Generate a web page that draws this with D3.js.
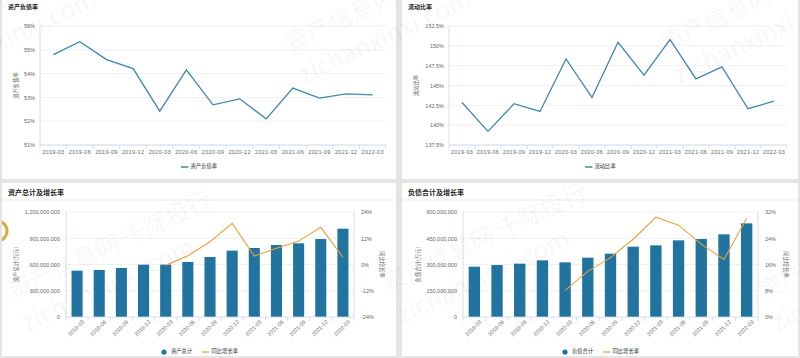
<!DOCTYPE html>
<html>
<head>
<meta charset="utf-8">
<script src="https://cdn.jsdelivr.net/npm/d3@7/dist/d3.min.js"></script>
<style>
  html, body { margin: 0; padding: 0; background: #e4e4e4; }
  svg { display: block; font-family: "Noto Sans CJK SC", "Noto Sans", sans-serif; }
</style>
</head>
<body>
<svg id="chart" width="800" height="358"></svg>
<script>
// ---------------- DATA ----------------
const categories = ['2019-03','2019-06','2019-09','2019-12','2020-03','2020-06','2020-09','2020-12','2021-03','2021-06','2021-09','2021-12','2022-03'];
const debtRatio = [54.80,55.34,54.59,54.21,52.42,54.16,52.69,52.94,52.10,53.39,52.97,53.15,53.11];
const currentRatio = [142.86,139.22,142.70,141.73,148.35,143.49,150.45,146.30,150.78,145.84,147.35,142.07,143.03];
const totalAssets = [529500000,537000000,560000000,598000000,598000000,628600000,685700000,758000000,788600000,822900000,842000000,891000000,1009500000];
const assetGrowth = [null,null,null,null,-0.4,4.0,10.4,18.8,3.9,7.4,10.7,17.0,3.3];
const totalLiab = [287600000,297000000,304800000,323800000,312400000,339000000,361900000,401900000,409500000,438000000,445700000,472400000,535200000];
const liabGrowth = [null,null,null,null,8.1,13.9,18.1,23.7,30.4,28.0,22.2,17.5,30.1];

const debtTicks = [51,52,53,54,55,56];
const currentTicks = [137.5,140,142.5,145,147.5,150,152.5];
const assetTicks = [0,300000000,600000000,900000000,1200000000];
const assetGrowthTicks = [-24,-12,0,12,24];
const liabTicks = [0,150000000,300000000,450000000,600000000];
const liabGrowthTicks = [0,8,16,24,32];

// ---------------- STYLE ----------------
const LINE_BLUE = '#3f88b2';
const BAR_BLUE = '#21749f';
const ORANGE = '#f2a03d';
const AXIS_COL = '#ccd6eb';
const GRID_COL = '#ececec';
const TXT = '#666';

const svg = d3.select('#chart');
svg.append('rect').attr('width',800).attr('height',358).attr('fill','#e4e4e4');

const panels = [
  {x:2,y:0,w:394,h:179},
  {x:402,y:0,w:396,h:179},
  {x:2,y:183,w:394,h:173},
  {x:402,y:183,w:396,h:173}
];
const defs = svg.append('defs');
panels.forEach((p,i) => {
  svg.append('rect').attr('x',p.x).attr('y',p.y).attr('width',p.w).attr('height',p.h).attr('fill','#fff');
  defs.append('clipPath').attr('id','clip'+i).append('rect')
    .attr('x',p.x).attr('y',p.y).attr('width',p.w).attr('height',p.h);
});

// partial logo at left edge of lower-left panel
svg.append('g').attr('clip-path','url(#clip2)').append('circle')
  .attr('cx', -3).attr('cy', 231).attr('r', 10).attr('fill','none')
  .attr('stroke', '#d9aa45').attr('stroke-width', 3);

const fmtComma = d3.format(',');

function xAxisBetweenTicks(g, x, y0) {
  const bounds = categories.map(c => x(c)).concat([x.range()[1]]);
  g.selectAll('line.xt').data(bounds).enter().append('line')
    .attr('x1', d => d).attr('x2', d => d).attr('y1', y0).attr('y2', y0 + 4)
    .attr('stroke', AXIS_COL).attr('stroke-width', 0.8);
  g.append('line').attr('x1', x.range()[0]).attr('x2', x.range()[1]).attr('y1', y0).attr('y2', y0)
    .attr('stroke', AXIS_COL).attr('stroke-width', 0.8);
}

function styleAxis(sel, size) {
  sel.select('.domain').remove();
  sel.selectAll('text').attr('fill', TXT).style('font-size', size + 'px');
}

function lineChart(cfg) {
  const g = svg.append('g');
  const x = d3.scaleBand().domain(categories).range([cfg.left, cfg.right]);
  const y = d3.scaleLinear().domain([cfg.ticks[0], cfg.ticks[cfg.ticks.length-1]]).range([cfg.bottom, cfg.top]);
  g.selectAll('line.grid').data(cfg.ticks).enter().append('line')
    .attr('x1', cfg.left).attr('x2', cfg.right).attr('y1', d => y(d)).attr('y2', d => y(d))
    .attr('stroke', GRID_COL).attr('stroke-width', 0.8);
  g.append('line').attr('x1', cfg.left).attr('x2', cfg.left).attr('y1', cfg.top).attr('y2', cfg.bottom)
    .attr('stroke', AXIS_COL).attr('stroke-width', 0.8);
  const ya = g.append('g').attr('transform', `translate(${cfg.left},0)`)
    .call(d3.axisLeft(y).tickValues(cfg.ticks).tickSize(0).tickPadding(5).tickFormat(cfg.fmt));
  styleAxis(ya, 5.5);
  xAxisBetweenTicks(g, x, cfg.bottom);
  const xa = g.append('g').attr('transform', `translate(0,${cfg.bottom})`)
    .call(d3.axisBottom(x).tickSize(0).tickPadding(5));
  styleAxis(xa, 5.5);
  xa.selectAll('text').style('letter-spacing','0.3px');
  g.append('text').attr('x', cfg.titleX).attr('y', 8.5).text(cfg.title)
    .attr('fill', '#222').style('font-size', '6px').style('font-weight', 'bold');
  g.append('text').attr('transform', `translate(${cfg.ytX},${(cfg.top+cfg.bottom)/2}) rotate(-90)`)
    .attr('text-anchor','middle').attr('dominant-baseline','middle').text(cfg.title)
    .attr('fill', TXT).style('font-size', '5.3px');
  const line = d3.line().x((d,i) => x(categories[i]) + x.bandwidth()/2).y(d => y(d));
  g.append('path').datum(cfg.values).attr('d', line).attr('fill','none')
    .attr('stroke', LINE_BLUE).attr('stroke-width', 1.3).attr('stroke-linejoin','miter');
  g.append('line').attr('x1', cfg.legX).attr('x2', cfg.legX + 7.5).attr('y1', 167).attr('y2', 167)
    .attr('stroke', LINE_BLUE).attr('stroke-width', 1.5);
  g.append('text').attr('x', cfg.legX + 9.5).attr('y', 167).attr('dominant-baseline','middle')
    .text(cfg.title).attr('fill', '#333').style('font-size', '5.3px');
}

function comboChart(cfg) {
  const g = svg.append('g');
  const x = d3.scaleBand().domain(categories).range([cfg.left, cfg.right]).paddingInner(0).paddingOuter(0);
  const y = d3.scaleLinear().domain([cfg.ticks[0], cfg.ticks[cfg.ticks.length-1]]).range([cfg.bottom, cfg.top]);
  const y2 = d3.scaleLinear().domain([cfg.rticks[0], cfg.rticks[cfg.rticks.length-1]]).range([cfg.bottom, cfg.top]);
  g.append('text').attr('x', cfg.panelX + 6).attr('y', 194.5).text(cfg.title)
    .attr('fill', '#222').style('font-size', '7px').style('font-weight', 'bold');
  g.append('line').attr('x1', cfg.panelX).attr('x2', cfg.panelX + cfg.panelW).attr('y1', 200).attr('y2', 200)
    .attr('stroke', '#e6e6e6').attr('stroke-width', 0.8);
  g.selectAll('line.grid').data(cfg.ticks.slice(1)).enter().append('line')
    .attr('x1', cfg.left).attr('x2', cfg.right).attr('y1', d => y(d)).attr('y2', d => y(d))
    .attr('stroke', GRID_COL).attr('stroke-width', 0.8);
  [cfg.left, cfg.right].forEach(xx => g.append('line').attr('x1', xx).attr('x2', xx)
    .attr('y1', cfg.top).attr('y2', cfg.bottom).attr('stroke', AXIS_COL).attr('stroke-width', 0.8));
  const ya = g.append('g').attr('transform', `translate(${cfg.left},0)`)
    .call(d3.axisLeft(y).tickValues(cfg.ticks).tickSize(0).tickPadding(6).tickFormat(fmtComma));
  styleAxis(ya, 5.5);
  const ya2 = g.append('g').attr('transform', `translate(${cfg.right},0)`)
    .call(d3.axisRight(y2).tickValues(cfg.rticks).tickSize(0).tickPadding(7).tickFormat(d => d + '%'));
  styleAxis(ya2, 5.5);
  const bw = x.bandwidth() * 0.5;
  g.selectAll('rect.bar').data(cfg.bars).enter().append('rect')
    .attr('x', (d,i) => x(categories[i]) + (x.bandwidth() - bw)/2)
    .attr('width', bw)
    .attr('y', d => y(d)).attr('height', d => cfg.bottom - y(d))
    .attr('fill', BAR_BLUE);
  xAxisBetweenTicks(g, x, cfg.bottom);
  const xa = g.append('g').attr('transform', `translate(0,${cfg.bottom})`)
    .call(d3.axisBottom(x).tickSize(0).tickPadding(5));
  styleAxis(xa, 5.5);
  xa.selectAll('text').attr('text-anchor','end').attr('dy','0.3em')
    .attr('transform', 'translate(2,0) rotate(-45)').attr('y', 6);
  const line = d3.line().defined(d => d !== null)
    .x((d,i) => x(categories[i]) + x.bandwidth()/2).y(d => y2(d));
  g.append('path').datum(cfg.growth).attr('d', line).attr('fill','none')
    .attr('stroke', ORANGE).attr('stroke-width', 1.1);
  g.append('text').attr('transform', `translate(${cfg.ytX},${(cfg.top+cfg.bottom)/2}) rotate(-90)`)
    .attr('text-anchor','middle').attr('dominant-baseline','middle').text(cfg.ytitle)
    .attr('fill', TXT).style('font-size', '5.3px');
  g.append('text').attr('transform', `translate(${cfg.yt2X},${(cfg.top+cfg.bottom)/2}) rotate(90)`)
    .attr('text-anchor','middle').attr('dominant-baseline','middle').text('同比增长率')
    .attr('fill', TXT).style('font-size', '5.3px');
  const ly = 352;
  g.append('circle').attr('cx', cfg.legX).attr('cy', ly).attr('r', 2.6).attr('fill', BAR_BLUE);
  g.append('text').attr('x', cfg.legX + 7).attr('y', ly).attr('dominant-baseline','middle')
    .text(cfg.barName).attr('fill', '#333').style('font-size', '5.3px');
  g.append('line').attr('x1', cfg.legX + 38).attr('x2', cfg.legX + 45).attr('y1', ly).attr('y2', ly)
    .attr('stroke', ORANGE).attr('stroke-width', 1.3);
  g.append('text').attr('x', cfg.legX + 47.5).attr('y', ly).attr('dominant-baseline','middle')
    .text('同比增长率').attr('fill', '#333').style('font-size', '5.3px');
}

lineChart({left:40, right:386, top:26, bottom:145, ticks:debtTicks, values:debtRatio,
  fmt: d => d + '%', title:'资产负债率', titleX:8, ytX:17, legX:181});
lineChart({left:449, right:787, top:26, bottom:145, ticks:currentTicks, values:currentRatio,
  fmt: d => d + '%', title:'流动比率', titleX:408, ytX:417, legX:585});

comboChart({panelX:2, panelW:394, left:66, right:354, top:212, bottom:317,
  ticks:assetTicks, rticks:assetGrowthTicks, bars:totalAssets, growth:assetGrowth,
  title:'资产总计及增长率', ytitle:'资产总计(万元)', barName:'资产总计', ytX:17, yt2X:381, legX:164});
comboChart({panelX:402, panelW:396, left:463, right:758, top:212, bottom:317,
  ticks:liabTicks, rticks:liabGrowthTicks, bars:totalLiab, growth:liabGrowth,
  title:'负债合计及增长率', ytitle:'负债合计(万元)', barName:'负债合计', ytX:419, yt2X:785, legX:565});

// ---------------- WATERMARK ----------------
const wm = svg.append('g').attr('pointer-events','none');
const wmTiles = [[-85,52],[290,52],[665,52],[13,300],[388,292],[763,300]];
wmTiles.forEach(([tx,ty]) => {
  wm.append('text').attr('transform', `translate(${tx},${ty}) rotate(-25)`)
    .text('资产信息网 千际投行').attr('fill','#000').attr('fill-opacity',0.045).style('font-size','24px');
  wm.append('text').attr('transform', `translate(${tx+14},${ty+32}) rotate(-25)`)
    .text('zichanxinxi.com').attr('fill','#000').attr('fill-opacity',0.045).style('font-size','25px');
});
</script>
</body>
</html>
